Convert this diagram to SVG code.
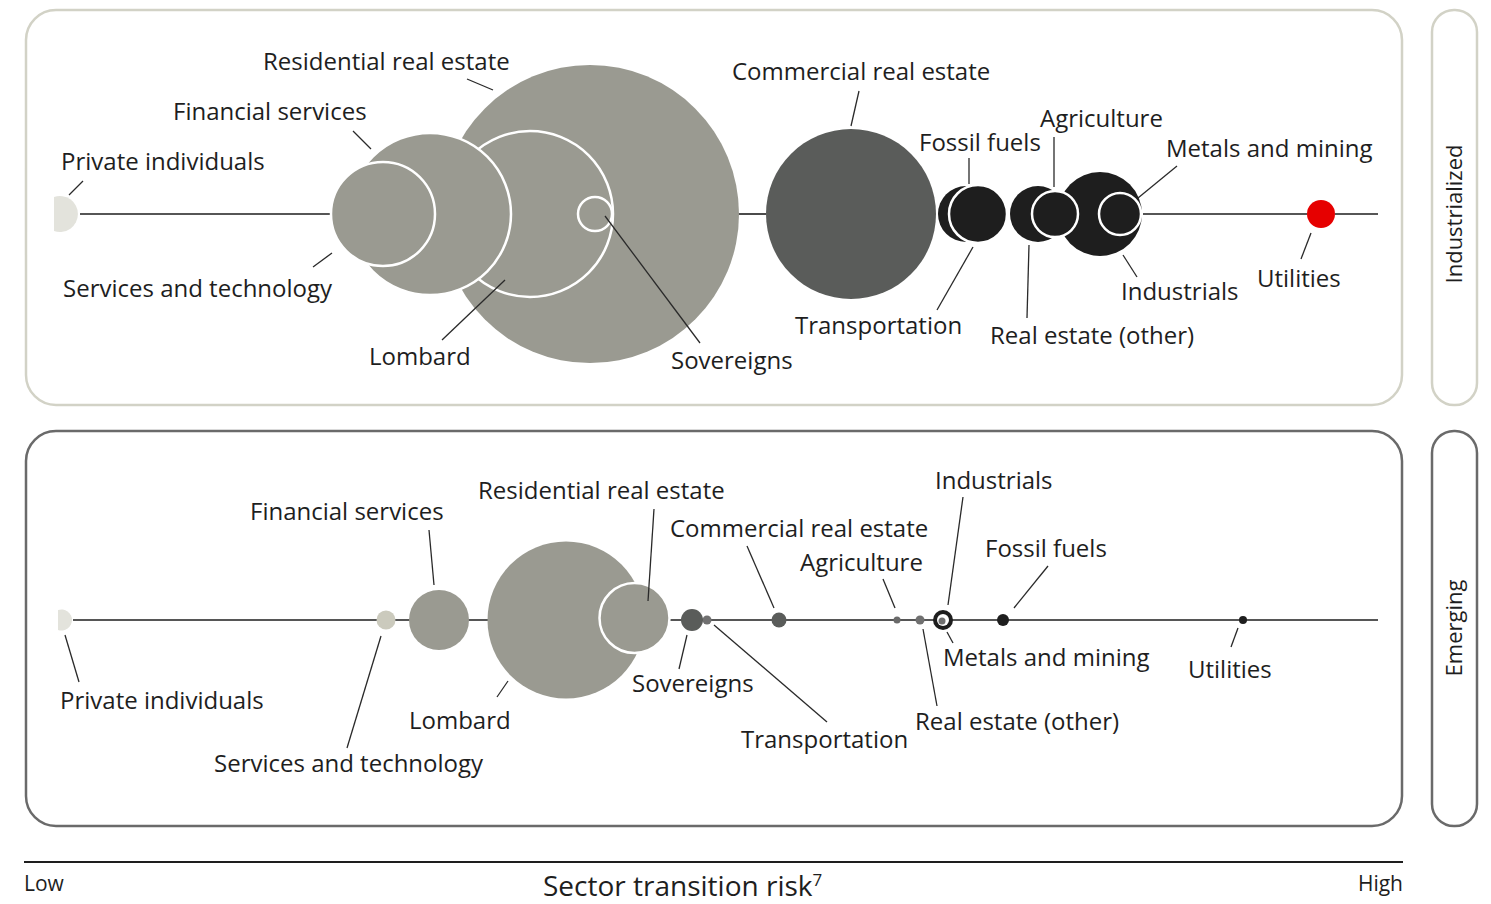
<svg xmlns="http://www.w3.org/2000/svg" width="1491" height="904" viewBox="0 0 1491 904">
<style>
text{font-family:"Open Sans","Noto Sans","Liberation Sans",sans-serif;fill:#1e1e1e;font-size:24px}
.ax{stroke:#1e1e1e;stroke-width:1.6;fill:none}
.ld{stroke:#2a2a2a;stroke-width:1.3;fill:none}
.g{fill:#9a9a91}
.gw{fill:#9a9a91;stroke:#fff;stroke-width:2.5}
.dk{fill:#5a5c5a}
.bk{fill:#1e1e1e}
.bkw{fill:#1e1e1e;stroke:#fff;stroke-width:2.5}
.ptop{fill:none;stroke:#d2d2c6;stroke-width:2.5}
.pbot{fill:none;stroke:#6a6a6a;stroke-width:2.5}
.side{font-size:22px}
</style>
<g id="panels">
<rect class="ptop" x="26" y="10" width="1376" height="395" rx="30"/>
<rect class="ptop" x="1432" y="10" width="45" height="395" rx="22"/>
<rect class="pbot" x="26" y="431" width="1376" height="395" rx="30"/>
<rect class="pbot" x="1432" y="431" width="45" height="395" rx="22"/>
<text class="side" x="1462" y="214" text-anchor="middle" transform="rotate(-90 1462 214)">Industrialized</text>
<text class="side" x="1462" y="628" text-anchor="middle" transform="rotate(-90 1462 628)">Emerging</text>
</g>
<g id="axis-lines">
<line class="ax" x1="80" y1="214" x2="330" y2="214"/>
<line class="ax" x1="738" y1="214" x2="766" y2="214"/>
<line class="ax" x1="1143" y1="214" x2="1307" y2="214"/>
<line class="ax" x1="1335" y1="214" x2="1378" y2="214"/>
<line class="ax" x1="73" y1="620" x2="1378" y2="620"/>
<line x1="24" y1="862" x2="1403" y2="862" stroke="#1e1e1e" stroke-width="2"/>
</g>
<g id="top-private-individuals">
<path d="M54 197 A18 18 0 1 1 54 231 Z" fill="#e3e3dc"/>
<text x="61" y="170">Private individuals</text>
</g>
<g id="top-residential-real-estate">
<circle class="g" cx="590" cy="214" r="149"/>
<text x="263" y="70">Residential real estate</text>
</g>
<g id="top-lombard">
<circle class="gw" cx="530" cy="214" r="83"/>
<text x="369" y="365">Lombard</text>
</g>
<g id="top-sovereigns">
<circle class="gw" cx="595" cy="214" r="17"/>
<text x="671" y="369">Sovereigns</text>
</g>
<g id="top-financial-services">
<circle class="gw" cx="430" cy="214" r="81"/>
<text x="173" y="120">Financial services</text>
</g>
<g id="top-services-technology">
<circle class="gw" cx="383" cy="214" r="52"/>
<text x="63" y="297">Services and technology</text>
</g>
<g id="top-commercial-real-estate">
<circle class="dk" cx="851" cy="214" r="85"/>
<text x="732" y="80">Commercial real estate</text>
</g>
<g id="top-fossil-fuels">
<circle class="bk" cx="966" cy="214" r="28"/>
<text x="919" y="151">Fossil fuels</text>
</g>
<g id="top-transportation">
<circle class="bkw" cx="978" cy="214" r="29"/>
<text x="795" y="334">Transportation</text>
</g>
<g id="top-real-estate-other">
<circle class="bk" cx="1038" cy="214" r="28"/>
<text x="990" y="344">Real estate (other)</text>
</g>
<g id="top-industrials">
<circle class="bk" cx="1100" cy="214" r="42"/>
<text x="1121" y="300">Industrials</text>
</g>
<g id="top-agriculture">
<circle class="bkw" cx="1055" cy="214" r="23"/>
<text x="1040" y="127">Agriculture</text>
</g>
<g id="top-metals-mining">
<circle class="bkw" cx="1120" cy="214" r="21"/>
<text x="1166" y="157">Metals and mining</text>
</g>
<g id="top-utilities">
<circle cx="1321" cy="214" r="14" fill="#e60000"/>
<text x="1257" y="287">Utilities</text>
</g>
<g id="bot-private-individuals">
<path d="M58 610.1 A10.5 10.5 0 1 1 58 629.9 Z" fill="#e3e3dc"/>
<text x="60" y="709">Private individuals</text>
</g>
<g id="bot-services-technology">
<circle cx="386" cy="620" r="9.5" fill="#cbcabd"/>
<text x="214" y="772">Services and technology</text>
</g>
<g id="bot-financial-services">
<circle class="g" cx="439" cy="620" r="30"/>
<text x="250" y="520">Financial services</text>
</g>
<g id="bot-lombard">
<circle class="g" cx="566" cy="620" r="78.5"/>
<text x="409" y="729">Lombard</text>
</g>
<g id="bot-residential-real-estate">
<circle class="gw" cx="634.5" cy="618" r="35"/>
<text x="478" y="499">Residential real estate</text>
</g>
<g id="bot-transportation">
<circle cx="707" cy="620" r="4.5" fill="#707070"/>
<text x="741" y="748">Transportation</text>
</g>
<g id="bot-sovereigns">
<circle class="dk" cx="692" cy="620" r="11"/>
<text x="632" y="692">Sovereigns</text>
</g>
<g id="bot-commercial-real-estate">
<circle class="dk" cx="779" cy="620" r="7.5"/>
<text x="670" y="537">Commercial real estate</text>
</g>
<g id="bot-agriculture">
<circle cx="897" cy="620" r="3.5" fill="#6a6a6a"/>
<text x="800" y="571">Agriculture</text>
</g>
<g id="bot-real-estate-other">
<circle cx="920" cy="620" r="4.5" fill="#707070"/>
<text x="915" y="730">Real estate (other)</text>
</g>
<g id="bot-industrials">
<circle class="bk" cx="943" cy="620" r="10"/>
<circle cx="943" cy="620" r="6" fill="#fff"/>
<text x="935" y="489">Industrials</text>
</g>
<g id="bot-metals-mining">
<circle cx="942" cy="621" r="3.5" fill="#707070"/>
<text x="943" y="666">Metals and mining</text>
</g>
<g id="bot-fossil-fuels">
<circle class="bk" cx="1003" cy="620" r="6"/>
<text x="985" y="557">Fossil fuels</text>
</g>
<g id="bot-utilities">
<circle class="bk" cx="1243" cy="620" r="4"/>
<text x="1188" y="678">Utilities</text>
</g>
<g id="connectors">
<line class="ld" x1="83" y1="181" x2="69" y2="195"/>
<line class="ld" x1="353" y1="131" x2="371" y2="149"/>
<line class="ld" x1="332" y1="253" x2="313" y2="267"/>
<line class="ld" x1="467" y1="79" x2="493" y2="90"/>
<line class="ld" x1="505" y1="280" x2="442" y2="340"/>
<line class="ld" x1="605" y1="216" x2="700" y2="343"/>
<line class="ld" x1="859" y1="91" x2="851" y2="126"/>
<line class="ld" x1="969" y1="158" x2="969" y2="184"/>
<line class="ld" x1="973" y1="247" x2="937" y2="310"/>
<line class="ld" x1="1054" y1="137" x2="1054" y2="187"/>
<line class="ld" x1="1029" y1="245" x2="1027" y2="318"/>
<line class="ld" x1="1138" y1="198" x2="1177" y2="166"/>
<line class="ld" x1="1123" y1="255" x2="1137" y2="277"/>
<line class="ld" x1="1311" y1="233" x2="1301" y2="259"/>
<line class="ld" x1="65" y1="635" x2="79" y2="682"/>
<line class="ld" x1="381" y1="636" x2="347" y2="748"/>
<line class="ld" x1="429" y1="530" x2="434" y2="585"/>
<line class="ld" x1="508" y1="681" x2="497" y2="697"/>
<line class="ld" x1="654" y1="509" x2="648" y2="601"/>
<line class="ld" x1="687" y1="635" x2="679" y2="669"/>
<line class="ld" x1="714" y1="625" x2="827" y2="722"/>
<line class="ld" x1="747" y1="546" x2="774" y2="608"/>
<line class="ld" x1="883" y1="579" x2="895" y2="608"/>
<line class="ld" x1="963" y1="497" x2="948" y2="605"/>
<line class="ld" x1="1048" y1="566" x2="1014" y2="608"/>
<line class="ld" x1="947" y1="632" x2="953" y2="643"/>
<line class="ld" x1="923" y1="629" x2="937" y2="706"/>
<line class="ld" x1="1238" y1="628" x2="1231" y2="647"/>
</g>
<g id="axis">
<text x="24" y="891" style="font-size:21px">Low</text>
<text x="543" y="896" style="font-size:28px">Sector transition risk<tspan dy="-10" style="font-size:17px">7</tspan></text>
<text x="1403" y="891" text-anchor="end" style="font-size:21px">High</text>
</g>
</svg>
